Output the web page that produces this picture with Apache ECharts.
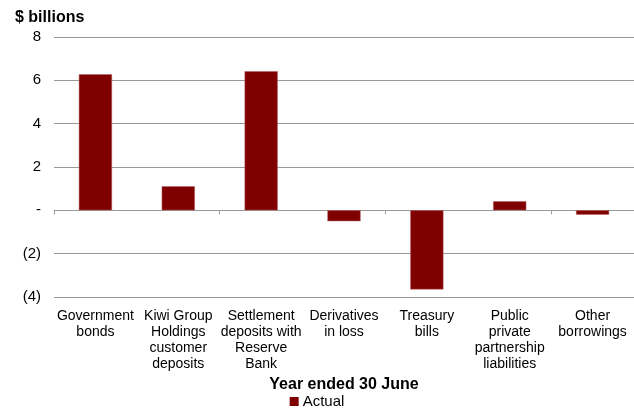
<!DOCTYPE html>
<html>
<head>
<meta charset="utf-8">
<script src="https://cdn.jsdelivr.net/npm/echarts@6/dist/echarts.min.js"></script>
<style>
  html, body { margin: 0; padding: 0; background: #fff; }
  #chart { width: 634px; height: 414px; }
</style>
</head>
<body>
<div id="chart"></div>
<script>
var categories = [
    'Government\nbonds',
    'Kiwi Group\nHoldings\ncustomer\ndeposits',
    'Settlement\ndeposits with\nReserve\nBank',
    'Derivatives\nin loss',
    'Treasury\nbills',
    'Public\nprivate\npartnership\nliabilities',
    'Other\nborrowings'
];
var actual = [6.28, 1.11, 6.42, -0.5, -3.65, 0.42, -0.2];
var yTicks = [-4, -2, 0, 2, 4, 6, 8];

function drawChart(div_id) {
    var myChart = echarts.init(document.getElementById(div_id));
    var font = 'Liberation Sans, Arial, sans-serif';
    myChart.setOption({
        animation: false,
        textStyle: { fontFamily: font },
        title: {
            text: '$ billions',
            left: 10,
            top: 5,
            textStyle: { fontSize: 16, fontWeight: 'bold', color: '#000', fontFamily: font }
        },
        legend: {
            data: ['Actual'],
            bottom: 0,
            left: 'center',
            icon: 'rect',
            itemWidth: 9,
            itemHeight: 9,
            itemGap: 4,
            itemStyle: { borderWidth: 0 },
            textStyle: { fontSize: 15, color: '#000', fontFamily: font, padding: [0, 0, 0, -1] }
        },
        grid: { left: 54, right: 0, top: 37, bottom: 117 },
        xAxis: [
            {
                type: 'category',
                data: categories,
                axisLine: { onZero: true, lineStyle: { color: '#999', width: 1 } },
                axisTick: { show: true, length: 4, lineStyle: { color: '#999' } },
                axisLabel: { show: false }
            },
            {
                type: 'category',
                data: categories,
                position: 'bottom',
                axisLine: { show: false, onZero: false },
                axisTick: { show: false },
                axisLabel: {
                    interval: 0,
                    fontSize: 14,
                    lineHeight: 16,
                    color: '#000',
                    margin: 11,
                    fontFamily: font
                },
                name: 'Year ended 30 June',
                nameLocation: 'middle',
                nameGap: 79,
                nameTextStyle: { fontSize: 16, fontWeight: 'bold', color: '#000', fontFamily: font }
            }
        ],
        yAxis: {
            type: 'value',
            min: yTicks[0],
            max: yTicks[yTicks.length - 1],
            interval: 2,
            axisLine: { show: false },
            axisTick: { show: false },
            splitLine: { lineStyle: { color: '#999', width: 1 } },
            axisLabel: {
                fontSize: 15,
                color: '#000',
                margin: 13,
                fontFamily: font,
                formatter: function (v) {
                    if (v === 0) return '-';
                    if (v < 0) return '(' + (-v) + ')';
                    return String(v);
                }
            }
        },
        series: [
            {
                name: 'Actual',
                type: 'bar',
                xAxisIndex: 0,
                barWidth: '40%',
                itemStyle: { color: '#800000', borderColor: '#b06060', borderWidth: 0.5 },
                data: actual
            }
        ]
    });
}
drawChart('chart');
</script>
</body>
</html>
